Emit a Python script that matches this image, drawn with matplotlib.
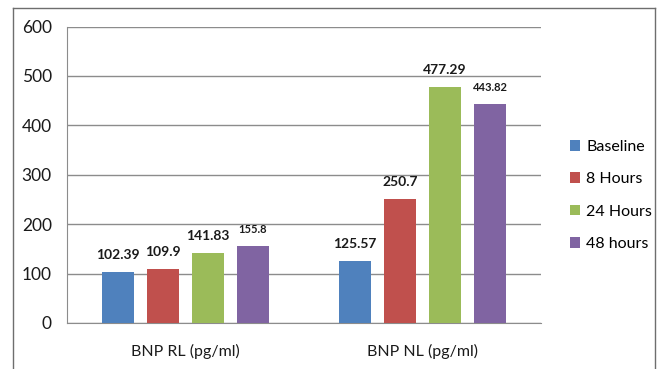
import matplotlib
matplotlib.use("Agg")
import matplotlib.pyplot as plt
from matplotlib.lines import Line2D
import numpy as np

categories = ["BNP RL (pg/ml)", "BNP NL (pg/ml)"]
series = ["Baseline", "8 Hours", "24 Hours", "48 hours"]
values = {
    "Baseline": [102.39, 125.57],
    "8 Hours": [109.9, 250.7],
    "24 Hours": [141.83, 477.29],
    "48 hours": [155.8, 443.82],
}
labels = {
    "Baseline": ["102.39", "125.57"],
    "8 Hours": ["109.9", "250.7"],
    "24 Hours": ["141.83", "477.29"],
    "48 hours": ["155.8", "443.82"],
}
colors = ["#4F81BD", "#C0504D", "#9BBB59", "#8064A2"]
yticks = [0, 100, 200, 300, 400, 500, 600]

plt.rcParams['font.family'] = ['Lato', 'DejaVu Sans']

fig = plt.figure(figsize=(6.59, 3.69), dpi=100)
ax = fig.add_axes([0.1017, 0.1247, 0.7193, 0.8033])

x = np.arange(len(categories))
w = 0.135
step = 0.19
for i, s in enumerate(series):
    pos = x + (i - 1.5) * step
    bars = ax.bar(pos, values[s], width=w, color=colors[i], label=s, zorder=3)
    for j, b in enumerate(bars):
        small = labels[s][j] in ("155.8", "443.82")
        ax.annotate(labels[s][j], (b.get_x() + b.get_width() / 2, b.get_height()),
                    xytext=(0, 8), textcoords="offset points", ha="center", va="bottom",
                    fontsize=8 if small else 10, fontweight="bold", color="#1a1a1a")

ax.set_xlim(-0.5, 1.5)
ax.set_ylim(0, 600)
ax.set_yticks(yticks)
ax.set_xticks(x)
ax.set_xticklabels(categories, fontsize=11.5)
ax.tick_params(axis="both", length=0, colors="#1a1a1a")
ax.tick_params(axis="y", labelsize=12.5, pad=11)
ax.tick_params(axis="x", pad=15)
ax.yaxis.grid(True, color="#8c8c8c", linewidth=1)
ax.set_axisbelow(True)
for side in ["top", "right"]:
    ax.spines[side].set_visible(False)
ax.spines["left"].set_color("#8c8c8c")
ax.spines["bottom"].set_color("#8c8c8c")

ax.legend(loc="center left", bbox_to_anchor=(1.03, 0.43), frameon=False, fontsize=11.5,
          handlelength=0.65, handleheight=0.65, handletextpad=0.4, labelspacing=1.15)

# outer chart border (bottom edge cut off)
bc = "#6e6e6e"
x0, x1, y0 = 13 / 659, 655 / 659, 1 - 8 / 369
fig.add_artist(Line2D([x0, x1], [y0, y0], color=bc, lw=1, transform=fig.transFigure))
fig.add_artist(Line2D([x0, x0], [0, y0], color=bc, lw=1, transform=fig.transFigure))
fig.add_artist(Line2D([x1, x1], [0, y0], color=bc, lw=1, transform=fig.transFigure))

fig.savefig("out.png", dpi=100)
